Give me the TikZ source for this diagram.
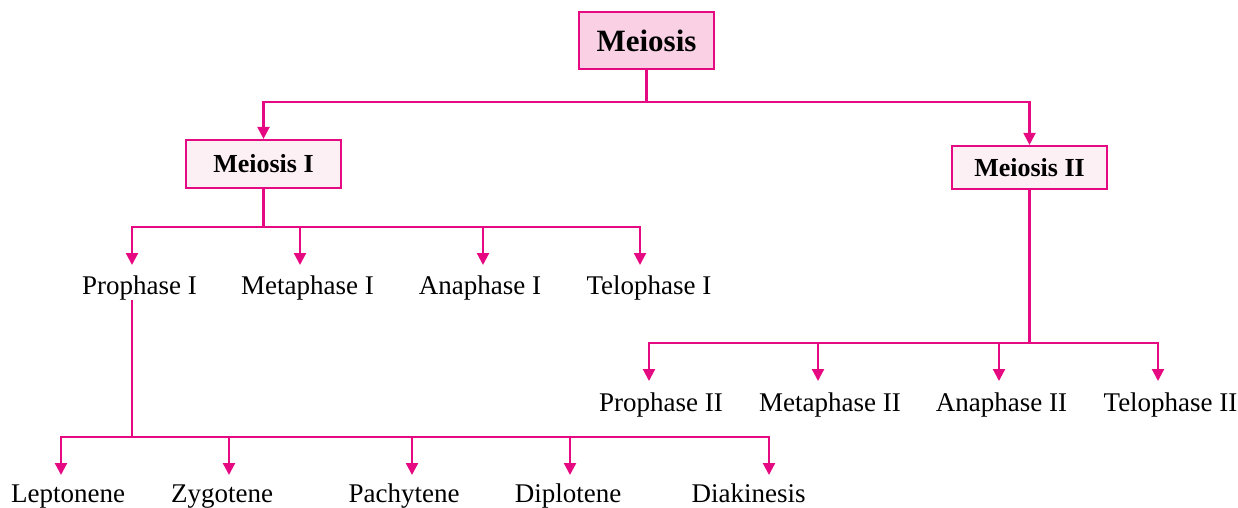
\documentclass[tikz,border=0pt]{standalone}
\usepackage{fontspec}
\setmainfont{Liberation Serif}
\usetikzlibrary{arrows.meta}
\definecolor{mag}{RGB}{230,10,130}
\definecolor{pinkA}{RGB}{249,208,228}
\definecolor{pinkB}{RGB}{253,240,245}
\begin{document}
\begin{tikzpicture}[x=1pt,y=-1pt,
  conn/.style={draw=mag,line width=2.2pt},
  arr/.style={conn,-{Triangle[width=12pt,length=12pt]}},
  mainbox/.style={draw=mag,line width=2.2pt,fill=pinkA,minimum width=135pt,minimum height=57pt,inner sep=0pt,font=\bfseries\fontsize{31}{36}\selectfont},
  subbox/.style={draw=mag,line width=2.2pt,fill=pinkB,minimum width=155pt,inner sep=0pt,font=\bfseries\fontsize{26}{30}\selectfont},
  stage/.style={font=\fontsize{27}{31}\selectfont,anchor=base,inner sep=0pt,text height=17pt,text depth=6pt}]
\useasboundingbox (0,0) rectangle (1238,507);

% boxes
\node[mainbox] (m) at (646.5,40.5) {Meiosis};
\node[subbox,minimum height=48pt] (m1) at (263.5,164) {Meiosis I};
\node[subbox,minimum height=43pt] (m2) at (1029.5,167.5) {Meiosis II};

% stage labels
\node[stage] (p1) at (139.5,294) {Prophase I};
\node[stage] (me1) at (307.5,294) {Metaphase I};
\node[stage] (an1) at (480,294) {Anaphase I};
\node[stage] (te1) at (649,294) {Telophase I};

\node[stage] (p2) at (661,411) {Prophase II};
\node[stage] (me2) at (830,411) {Metaphase II};
\node[stage] (an2) at (1001.5,411) {Anaphase II};
\node[stage] (te2) at (1170.5,411) {Telophase II};

\node[stage] (le) at (68,502) {Leptonene};
\node[stage] (zy) at (222,502) {Zygotene};
\node[stage] (pa) at (404,502) {Pachytene};
\node[stage] (di) at (568,502) {Diplotene};
\node[stage] (dk) at (748.5,502) {Diakinesis};

% junctions and arrow ends
\coordinate (j0) at (646.5,102);
\coordinate (j1) at (263.5,227);
\coordinate (j2) at (1029.5,343);
\coordinate (j3) at (132,437);

\coordinate (a11) at (132,265);
\coordinate (a12) at (300,265);
\coordinate (a13) at (483,265);
\coordinate (a14) at (640,265);

\coordinate (a21) at (649,381);
\coordinate (a22) at (818,381);
\coordinate (a23) at (999,381);
\coordinate (a24) at (1158,381);

\coordinate (a31) at (61,475);
\coordinate (a32) at (229,475);
\coordinate (a33) at (412,475);
\coordinate (a34) at (570,475);
\coordinate (a35) at (769,475);

% level 1
\draw[conn] (m.south) -- (j0);
\draw[arr] (j0) -| (m1.north);
\draw[arr] (j0) -| (m2.north);

% Meiosis I
\draw[conn] (m1.south) -- (j1);
\foreach \t in {a11,a12,a13,a14}{\draw[arr] (j1) -| (\t);}

% Meiosis II
\draw[conn] (m2.south) -- (j2);
\foreach \t in {a21,a22,a23,a24}{\draw[arr] (j2) -| (\t);}

% Prophase I
\draw[conn] (p1.south -| j3) -- (j3);
\foreach \t in {a31,a32,a33,a34,a35}{\draw[arr] (j3) -| (\t);}
\end{tikzpicture}
\end{document}
